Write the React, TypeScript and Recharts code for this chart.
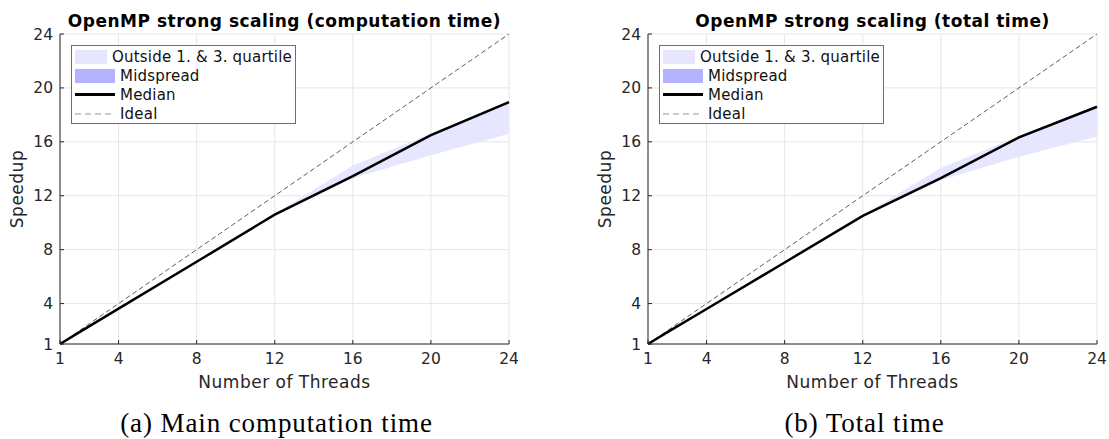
import { ComposedChart, Area, Line, XAxis, YAxis, CartesianGrid } from "recharts";

// thread counts measured
const threads = [1, 2, 4, 8, 12, 16, 20, 24];
const ideal = [1, 2, 4, 8, 12, 16, 20, 24];

// (a) main computation time
const compMin = [1, 1.87, 3.6, 7.07, 10.57, 13.3, 15.0, 16.6];
const compQ1 = [1, 1.88, 3.61, 7.09, 10.59, 13.4, 16.4, 18.85];
const compMedian = [1, 1.88, 3.62, 7.1, 10.6, 13.45, 16.5, 18.95];
const compQ3 = [1, 1.88, 3.63, 7.11, 10.61, 13.5, 16.55, 19.0];
const compMax = [1, 1.9, 3.65, 7.15, 10.65, 14.25, 16.6, 19.0];

// (b) total time
const totMin = [1, 1.87, 3.58, 7.03, 10.47, 13.15, 14.9, 16.4];
const totQ1 = [1, 1.88, 3.59, 7.04, 10.49, 13.25, 16.25, 18.5];
const totMedian = [1, 1.88, 3.6, 7.05, 10.5, 13.3, 16.33, 18.6];
const totQ3 = [1, 1.88, 3.61, 7.06, 10.51, 13.35, 16.38, 18.65];
const totMax = [1, 1.9, 3.63, 7.1, 10.55, 14.05, 16.45, 18.65];

const xTicks = [1, 4, 8, 12, 16, 20, 24];
const yTicks = [1, 4, 8, 12, 16, 20, 24];

const FONT = "DejaVu Sans, sans-serif";
const TEXT = "#262626";

function buildRows(mn: number[], q1: number[], med: number[], q3: number[], mx: number[]) {
  return threads.map((t, i) => ({
    t,
    outer: [mn[i], mx[i]],
    mid: [q1[i], q3[i]],
    median: med[i],
    ideal: ideal[i],
  }));
}

function Legend() {
  const row = { display: "flex", alignItems: "center", height: 19 } as const;
  return (
    <div
      style={{
        position: "absolute",
        top: 45,
        left: 0,
        width: 225,
        height: 79,
        border: "1px solid #6e6e6e",
        background: "#fff",
        boxSizing: "border-box",
        padding: "1px 3px",
        fontFamily: FONT,
        fontSize: 15,
        letterSpacing: 0.2,
        color: "#111",
        whiteSpace: "nowrap",
      }}
    >
      <div style={row}>
        <div style={{ width: 40, height: 14, background: "#e6e6ff", marginRight: 5 }} />
        Outside 1. &amp; 3. quartile
      </div>
      <div style={row}>
        <div style={{ width: 40, height: 14, background: "#b3b3ff", marginRight: 5 }} />
        Midspread
      </div>
      <div style={row}>
        <div style={{ width: 40, height: 3, background: "#000", marginRight: 5 }} />
        Median
      </div>
      <div style={row}>
        <svg width={40} height={4} style={{ marginRight: 5 }}>
          <line x1={0} y1={2} x2={40} y2={2} stroke="#999" strokeWidth={1} strokeDasharray="6 4" />
        </svg>
        Ideal
      </div>
    </div>
  );
}

function Panel({
  left,
  marginLeft,
  title,
  caption,
  rows,
}: {
  left: number;
  marginLeft: number;
  title: string;
  caption: string;
  rows: ReturnType<typeof buildRows>;
}) {
  const plotLeft = marginLeft + 40;
  const plotW = 449;
  const center = plotLeft + plotW / 2;
  return (
    <div style={{ position: "absolute", left, top: 0, width: 554, height: 439 }}>
      <div
        style={{
          position: "absolute",
          top: 11,
          left: center - 250,
          width: 500,
          textAlign: "center",
          fontFamily: FONT,
          fontWeight: "bold",
          fontSize: 17,
          letterSpacing: 0.5,
          color: "#000",
        }}
      >
        {title}
      </div>
      <ComposedChart
        width={554}
        height={400}
        data={rows}
        margin={{ top: 34, right: 554 - plotLeft - plotW, bottom: 16, left: marginLeft }}
      >
        <CartesianGrid stroke="#e6e6e6" horizontalValues={yTicks} verticalValues={xTicks} />
        <XAxis
          dataKey="t"
          type="number"
          domain={[1, 24]}
          ticks={xTicks}
          height={40}
          tickSize={-4}
          tickMargin={13}
          axisLine={{ stroke: TEXT }}
          tickLine={{ stroke: TEXT }}
          tick={{ fontSize: 15.5, fill: TEXT, fontFamily: FONT }}
        />
        <YAxis
          type="number"
          domain={[1, 24]}
          ticks={yTicks}
          width={40}
          tickSize={-4}
          tickMargin={11}
          axisLine={{ stroke: TEXT }}
          tickLine={{ stroke: TEXT }}
          tick={{ fontSize: 15.5, fill: TEXT, fontFamily: FONT }}
        />
        <Area
          dataKey="outer"
          type="linear"
          stroke="none"
          fill="#e6e6ff"
          fillOpacity={1}
          isAnimationActive={false}
          activeDot={false}
        />
        <Area
          dataKey="mid"
          type="linear"
          stroke="none"
          fill="#b3b3ff"
          fillOpacity={1}
          isAnimationActive={false}
          activeDot={false}
        />
        <Line
          dataKey="ideal"
          type="linear"
          stroke="#333"
          strokeWidth={0.8}
          strokeDasharray="5 3"
          dot={false}
          activeDot={false}
          isAnimationActive={false}
        />
        <Line
          dataKey="median"
          type="linear"
          stroke="#000"
          strokeWidth={2.5}
          dot={false}
          activeDot={false}
          isAnimationActive={false}
        />
      </ComposedChart>
      <div style={{ position: "absolute", left: plotLeft + 11, top: 0 }}>
        <Legend />
      </div>
      <div
        style={{
          position: "absolute",
          left: plotLeft - 42 - 50,
          top: 189 - 11,
          width: 100,
          height: 22,
          textAlign: "center",
          transform: "rotate(-90deg)",
          fontFamily: FONT,
          fontSize: 17,
          letterSpacing: 0.5,
          color: TEXT,
        }}
      >
        Speedup
      </div>
      <div
        style={{
          position: "absolute",
          left: center - 150,
          top: 372,
          width: 300,
          textAlign: "center",
          fontFamily: FONT,
          fontSize: 17,
          letterSpacing: 0.5,
          color: TEXT,
        }}
      >
        Number of Threads
      </div>
      <div
        style={{
          position: "absolute",
          left: center - 258,
          top: 407,
          width: 500,
          textAlign: "center",
          fontFamily: "Liberation Serif, serif",
          fontSize: 27,
          letterSpacing: 0.9,
          lineHeight: "32px",
          color: "#000",
        }}
      >
        {caption}
      </div>
    </div>
  );
}

export default function App() {
  const compRows = buildRows(compMin, compQ1, compMedian, compQ3, compMax);
  const totRows = buildRows(totMin, totQ1, totMedian, totQ3, totMax);
  return (
    <div
      style={{
        position: "absolute",
        left: 0,
        top: 0,
        width: 1109,
        height: 439,
        background: "#fff",
        overflow: "hidden",
      }}
    >
      <Panel
        left={0}
        marginLeft={20}
        title="OpenMP strong scaling (computation time)"
        caption="(a) Main computation time"
        rows={compRows}
      />
      <Panel
        left={555}
        marginLeft={53}
        title="OpenMP strong scaling (total time)"
        caption="(b) Total time"
        rows={totRows}
      />
    </div>
  );
}
